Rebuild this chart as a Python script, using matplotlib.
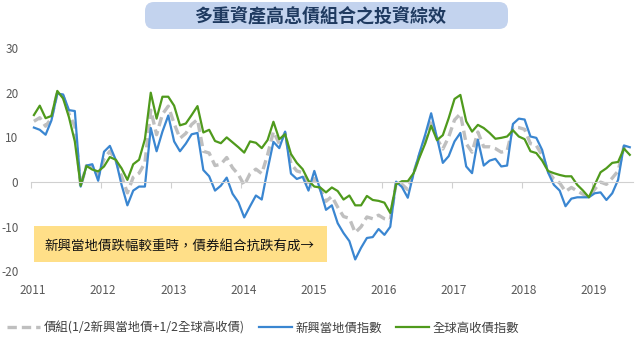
import numpy as np
import matplotlib
matplotlib.use("Agg")
import matplotlib.pyplot as plt
from matplotlib.patches import FancyBboxPatch, Rectangle

plt.rcParams['font.family'] = ['Noto Sans CJK TC', 'DejaVu Sans']
plt.rcParams['axes.unicode_minus'] = False

# monthly readings (%), Jan 2011 - Jul 2019
em_local = [12.2, 11.7, 10.6, 13.8, 19.8, 19.6, 16.1, 15.9, -1.0, 3.7,
            4.0, 0.3, 6.8, 8.1, 5.0, -0.6, -5.2, -1.9, -1.0, -1.0,
            12.1, 6.9, 11.3, 14.9, 9.1, 6.9, 8.6, 10.7, 11.0, 2.7,
            1.3, -1.9, -0.8, 1.0, -2.6, -4.5, -7.9, -5.4, -3.0, -3.9,
            2.8, 9.0, 7.6, 11.3, 1.9, 0.7, 1.2, -1.9, 2.5, -1.7,
            -6.2, -5.2, -9.2, -11.4, -13.2, -17.3, -14.7, -12.5, -12.3, -10.5,
            -11.8, -10.0, 0.1, -1.1, -3.5, 2.0, 6.5, 10.7, 15.4, 9.9,
            4.3, 5.8, 9.1, 11.0, 3.5, 2.0, 9.5, 3.7, 4.8, 5.2,
            3.5, 3.7, 13.0, 14.2, 14.0, 10.2, 9.9, 7.2, 2.2, -0.6,
            -1.9, -5.4, -3.7, -3.4, -3.4, -3.4, -2.5, -2.3, -4.0, -2.5,
            0.5, 8.2, 7.8]

global_hy = [15.0, 17.1, 14.3, 14.8, 20.4, 18.7, 14.5, 9.1, -0.8, 3.6,
             2.8, 2.4, 3.5, 5.6, 5.0, 3.1, 0.5, 4.0, 5.0, 9.6,
             20.0, 14.2, 19.1, 19.1, 17.1, 12.7, 13.1, 15.0, 17.0, 11.1,
             11.7, 9.2, 8.7, 10.0, 8.9, 7.8, 6.6, 9.1, 8.8, 7.6,
             9.4, 13.5, 9.6, 10.7, 6.3, 4.3, 2.9, 0.3, -1.0, -1.2,
             -2.3, -1.2, -2.0, -3.9, -3.0, -5.2, -5.2, -3.1, -4.0, -4.2,
             -4.6, -6.9, -0.5, 0.2, 0.2, 2.0, 5.5, 8.7, 12.6, 9.4,
             10.5, 14.3, 18.6, 19.5, 13.6, 11.3, 12.8, 12.1, 11.0, 9.7,
             9.9, 10.2, 11.6, 10.2, 9.6, 6.9, 6.5, 4.8, 2.5, 2.0,
             1.6, 1.3, 1.3, -0.6, -1.9, -3.4, -0.6, 2.2, 3.1, 4.3,
             4.5, 7.5, 6.1]

portfolio = [13.6, 14.4, 12.5, 14.3, 20.1, 19.2, 15.3, 12.5, -0.9, 3.7,
             3.4, 1.4, 5.2, 6.9, 5.0, 1.3, -2.4, 1.1, 2.0, 4.3,
             16.1, 10.6, 15.2, 17.0, 13.1, 9.8, 10.9, 12.9, 14.0, 6.9,
             6.5, 3.7, 4.0, 5.5, 3.2, 1.7, -0.7, 1.9, 2.9, 1.9,
             6.1, 11.3, 8.6, 11.0, 4.1, 2.5, 2.1, -0.8, 0.8, -1.5,
             -4.3, -3.2, -5.6, -7.7, -8.1, -11.3, -10.0, -7.8, -8.2, -7.4,
             -8.2, -8.5, -0.2, -0.5, -1.7, 2.0, 6.0, 9.7, 14.0, 9.7,
             7.4, 10.1, 13.9, 15.3, 8.6, 6.7, 11.2, 7.9, 7.9, 7.5,
             6.7, 7.0, 12.3, 12.2, 11.8, 8.6, 8.2, 6.0, 2.4, 0.7,
             -0.2, -2.1, -1.2, -2.0, -2.7, -3.4, -1.6, 0.0, -0.5, 0.9,
             2.5, 7.9, 7.0]

years = list(range(2011, 2020))
title = "多重資產高息債組合之投資綜效"
note = "新興當地債跌幅較重時，債券組合抗跌有成→"
labels = ["債組(1/2新興當地債+1/2全球高收債)", "新興當地債指數", "全球高收債指數"]

months = np.arange(len(em_local))
x = 2011 + (months + 0.5) / 12

fig = plt.figure(figsize=(6.4, 3.58), dpi=100)
ax = fig.add_axes([31/640, 1 - 271.5/358, 602/640, 223.5/358])

ax.plot(x, portfolio, color='#bfbfbf', lw=2.4, dashes=(2.8, 1.5), label=labels[0])
ax.plot(x, em_local, color='#3a86d1', lw=1.6, label=labels[1])
ax.plot(x, global_hy, color='#4f9a1c', lw=1.6, label=labels[2])

ax.set_xlim(2011, 2011 + 602/70.1)
ax.set_ylim(-20, 30)
ax.set_yticks(range(-20, 31, 10))
ax.tick_params(axis='y', length=0, pad=9, labelsize=8.5, labelcolor='#595959')

for s in ['top', 'right', 'left']:
    ax.spines[s].set_visible(False)
ax.spines['bottom'].set_position(('data', 0))
ax.spines['bottom'].set_color('#d0d0d0')
ax.set_xticks(years)
ax.tick_params(axis='x', direction='out', length=4, color='#d0d0d0', labelbottom=False)

sec = ax.secondary_xaxis(0.0)
sec.set_xticks([y + 0.03 for y in years])
sec.set_xticklabels([str(y) for y in years])
sec.tick_params(length=0, pad=9, labelsize=8.5, labelcolor='#595959')
sec.spines['bottom'].set_visible(False)

# yellow note
ax.add_patch(Rectangle((0.005, 0.044), 0.487, 0.16, transform=ax.transAxes,
                       facecolor='#ffdf88', edgecolor='none', zorder=5))
ax.text(0.023, 0.116, note, transform=ax.transAxes, fontsize=9.7,
        color='#111111', va='center', ha='left', zorder=6)

# title box
fig.patches.append(FancyBboxPatch((1.45, 3.29), 3.63, 0.27,
                                  boxstyle="round,pad=0,rounding_size=0.09",
                                  transform=fig.dpi_scale_trans,
                                  facecolor='#c3d3ee', edgecolor='none'))
fig.text(320/640, 1 - 16/358, title, ha='center', va='center',
         fontsize=13, fontweight='bold', color='#1f3a60')

fig.legend(loc='center left', bbox_to_anchor=(7/640, 1 - 328/358), ncol=3,
           frameon=False, fontsize=8.9, handlelength=2.7, handletextpad=0.25,
           columnspacing=1.15, borderpad=0, borderaxespad=0, labelcolor='#404040')

fig.savefig('out.png', dpi=100)
